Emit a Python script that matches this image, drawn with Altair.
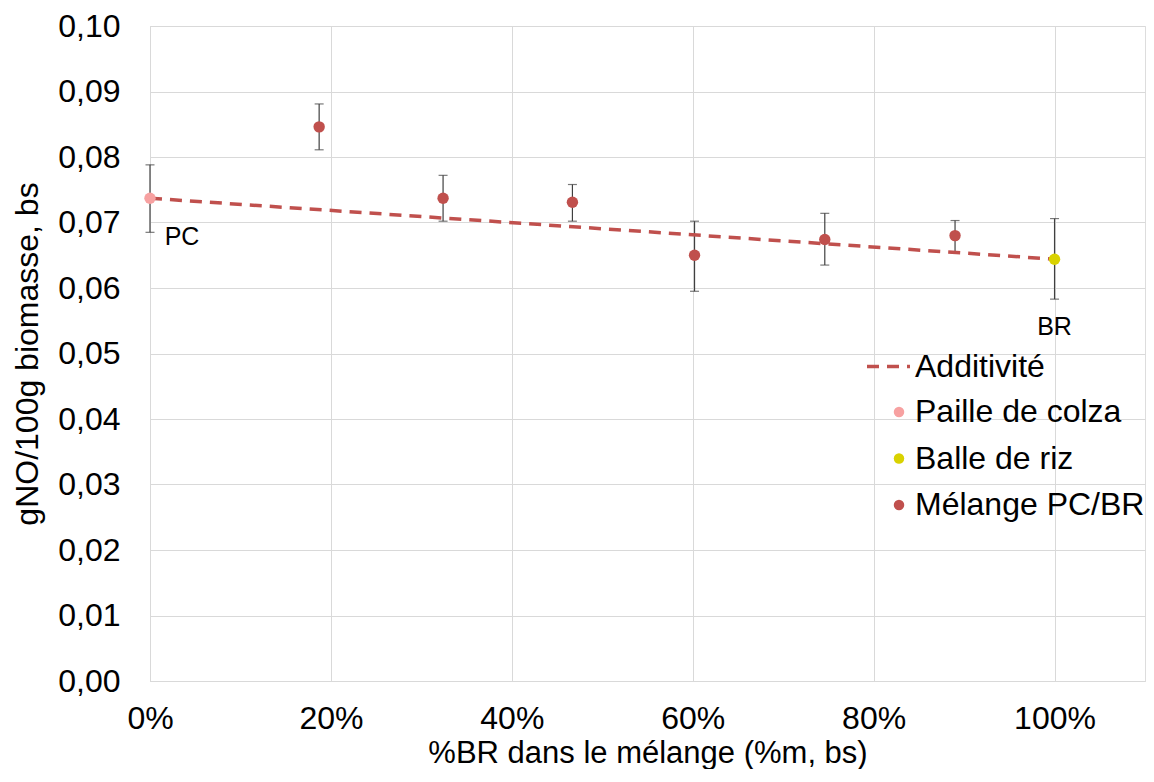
import altair as alt
import pandas as pd

# ---- data ----
mix_x = [0.187, 0.324, 0.467, 0.602, 0.746, 0.890]
mix_y = [0.0846, 0.0737, 0.0731, 0.0650, 0.0674, 0.0680]
mix_lo = [0.0811, 0.0702, 0.0702, 0.0595, 0.0635, 0.0654]
mix_hi = [0.0881, 0.0772, 0.0758, 0.0702, 0.0714, 0.0703]

pc_x = [0.0]
pc_y = [0.0737]
pc_lo = [0.0685]
pc_hi = [0.0788]

br_x = [1.0]
br_y = [0.0644]
br_lo = [0.0583]
br_hi = [0.0706]

add_x = [0.0, 1.0]
add_y = [0.0737, 0.0644]

series_names = ["Paille de colza", "Balle de riz", "Mélange PC/BR"]
series_colors = ["#F7A1A1", "#D9D200", "#C0504D"]
x_ticks = [0, 0.2, 0.4, 0.6, 0.8, 1.0]
y_ticks = [0, 0.01, 0.02, 0.03, 0.04, 0.05, 0.06, 0.07, 0.08, 0.09, 0.10]

rows = []
for xs, ys, los, his, name in [
    (pc_x, pc_y, pc_lo, pc_hi, series_names[0]),
    (br_x, br_y, br_lo, br_hi, series_names[1]),
    (mix_x, mix_y, mix_lo, mix_hi, series_names[2]),
]:
    for a, b, c, d in zip(xs, ys, los, his):
        rows.append({"x": a, "y": b, "lo": c, "hi": d, "serie": name})
pts = pd.DataFrame(rows)
add = pd.DataFrame({"x": add_x, "y": add_y, "s": ["Additivité"] * 2})
labels = pd.DataFrame({"x": [0.0, 1.0], "y": [0.0737, 0.0644], "t": ["PC", "BR"]})

FONT = "Liberation Sans"
GRID = "#D9D9D9"
FS = 32

xscale = alt.Scale(domain=[0, 1.1], nice=False, zero=False)
yscale = alt.Scale(domain=[0, 0.1], nice=False)

xaxis = alt.Axis(values=x_ticks, format=".0%", title="%BR dans le mélange (%m, bs)",
                 grid=True, gridColor=GRID, domainColor=GRID, ticks=False, labelFlush=False,
                 labelFontSize=FS, labelColor="black", labelPadding=22, labelFont=FONT,
                 titleFontSize=31, titleFontWeight="normal", titleColor="black", titleFont=FONT,
                 titlePadding=4)
yaxis = alt.Axis(values=y_ticks, labelExpr="replace(format(datum.value, '.2f'), '.', ',')",
                 title="gNO/100g biomasse, bs",
                 grid=True, gridColor=GRID, domainColor=GRID, ticks=False, labelFlush=False,
                 labelFontSize=FS, labelColor="black", labelPadding=30, labelFont=FONT,
                 titleFontSize=FS, titleFontWeight="normal", titleColor="black", titleFont=FONT,
                 titlePadding=13)

base = alt.Chart(pts)

err = base.mark_rule(color="#404040", strokeWidth=1.2).encode(
    x=alt.X("x:Q", scale=xscale, axis=xaxis),
    y=alt.Y("lo:Q", scale=yscale, axis=yaxis),
    y2="hi:Q",
)
cap_lo = base.mark_tick(color="#404040", orient="horizontal", size=9, thickness=1.2).encode(
    x=alt.X("x:Q", scale=xscale), y=alt.Y("lo:Q", scale=yscale))
cap_hi = base.mark_tick(color="#404040", orient="horizontal", size=9, thickness=1.2).encode(
    x=alt.X("x:Q", scale=xscale), y=alt.Y("hi:Q", scale=yscale))

line = alt.Chart(add).mark_line(color="#C0504D", strokeWidth=3.5).encode(
    x=alt.X("x:Q", scale=xscale),
    y=alt.Y("y:Q", scale=yscale),
    strokeDash=alt.StrokeDash("s:N", scale=alt.Scale(domain=["Additivité"], range=[[12, 8]]),
                              legend=alt.Legend(title=None, orient="none", legendX=715, legendY=317,
                                                symbolType="stroke", symbolSize=1849,
                                                symbolStrokeColor="#C0504D", symbolStrokeWidth=3.5,
                                                labelFontSize=FS, labelFont=FONT, labelColor="black",
                                                labelOffset=3, labelLimit=400)),
)

points = base.mark_circle(size=130, opacity=1).encode(
    x=alt.X("x:Q", scale=xscale),
    y=alt.Y("y:Q", scale=yscale),
    color=alt.Color("serie:N", scale=alt.Scale(domain=series_names, range=series_colors),
                    legend=alt.Legend(title=None, orient="none", legendX=733, legendY=370,
                                      symbolType="circle", symbolSize=110, symbolOpacity=1,
                                      rowPadding=14.5,
                                      labelFontSize=FS, labelFont=FONT, labelColor="black",
                                      labelOffset=0, labelLimit=400)),
)

text = alt.Chart(labels).encode(
    x=alt.X("x:Q", scale=xscale),
    y=alt.Y("y:Q", scale=yscale),
    text="t:N",
)
pc_text = text.transform_filter("datum.t == 'PC'").mark_text(fontSize=25, font=FONT, color="black", dx=32, dy=39)
br_text = text.transform_filter("datum.t == 'BR'").mark_text(fontSize=25, font=FONT, color="black", dx=0, dy=68)

chart = alt.layer(err, cap_lo, cap_hi, line, points, pc_text, br_text).properties(
    width=995, height=655,
    autosize=alt.AutoSizeParams(type="none"),
    padding={"left": 142, "top": 18, "right": 1, "bottom": 88},
).configure_view(stroke=None).configure(background="white")

chart.save("out.html", embed_options={"renderer": "svg", "actions": False})
